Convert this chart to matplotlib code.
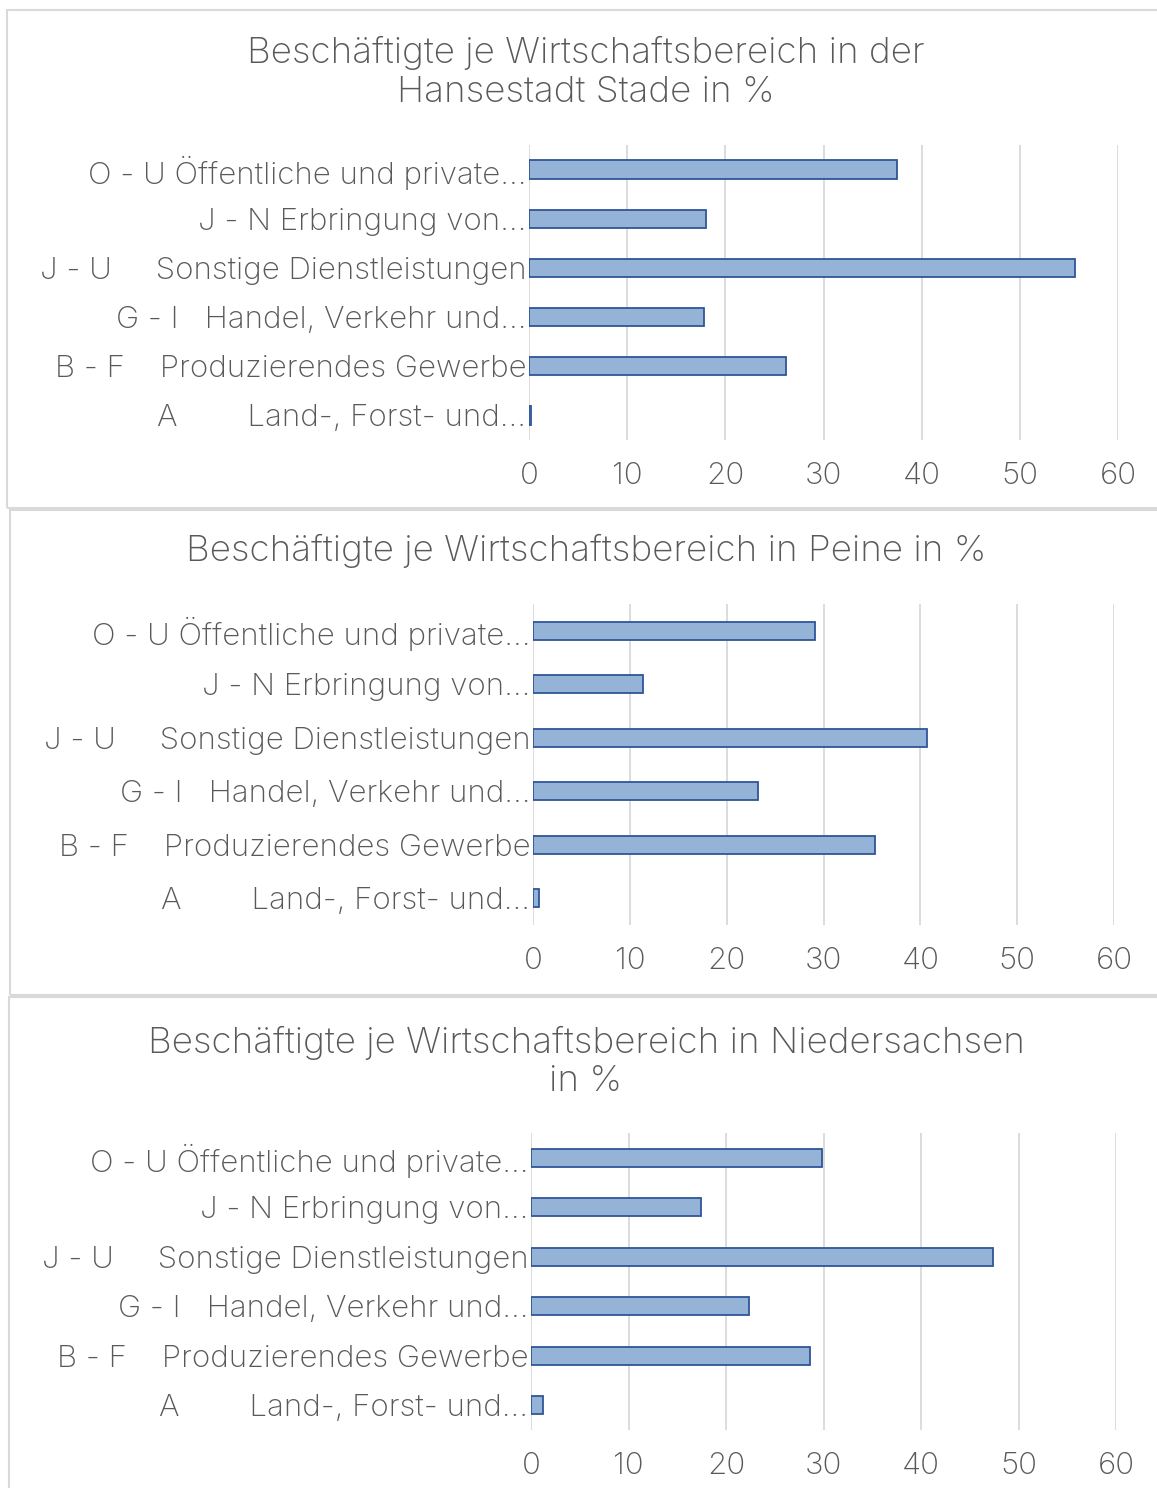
import matplotlib.pyplot as plt
from matplotlib.patches import Rectangle

plt.rcParams['font.family'] = ['Inter', 'DejaVu Sans']
plt.rcParams['font.weight'] = 'light'

# categories, bottom to top
categories = [
    'A        Land-, Forst- und...',
    'B - F    Produzierendes Gewerbe',
    'G - I   Handel, Verkehr und...',
    'J - U     Sonstige Dienstleistungen',
    'J - N Erbringung von...',
    'O - U Öffentliche und private...',
]

stade = [0.2, 26.2, 17.8, 55.6, 18.0, 37.5]
peine = [0.6, 35.3, 23.2, 40.7, 11.4, 29.1]
nds = [1.2, 28.6, 22.4, 47.4, 17.4, 29.8]

titles = [
    'Beschäftigte je Wirtschaftsbereich in der\nHansestadt Stade in %',
    'Beschäftigte je Wirtschaftsbereich in Peine in %',
    'Beschäftigte je Wirtschaftsbereich in Niedersachsen\nin %',
]
xticks = [0, 10, 20, 30, 40, 50, 60]

W, H = 1157, 1488
fig = plt.figure(figsize=(W / 100, H / 100), dpi=100)

txt = '#595959'
grid = '#D9D9D9'
fill = '#95B3D7'
edge = '#2F5597'

# pixel layouts: (border box), (axes box), title centre y, bar height
panels = [
    ((7, 10, 1160, 508), (529, 145, 1118, 440), 72.5, 0.37, stade),
    ((10, 510, 1160, 995), (533, 604, 1114, 925), 551, 0.34, peine),
    ((9, 997, 1160, 1495), (531, 1133, 1116, 1430), 1062, 0.37, nds),
]

for i, (box, ab, ty, bh, vals) in enumerate(panels):
    x0, y0, x1, y1 = box
    fig.patches.append(Rectangle((x0 / W, 1 - y1 / H), (x1 - x0) / W, (y1 - y0) / H,
                                 transform=fig.transFigure, fill=False,
                                 edgecolor=grid, linewidth=1.5))
    ax = fig.add_axes([ab[0] / W, 1 - ab[3] / H, (ab[2] - ab[0]) / W, (ab[3] - ab[1]) / H])
    ax.barh(range(len(categories)), vals, height=bh, color=fill,
            edgecolor=edge, linewidth=1.3, zorder=3)
    ax.set_xlim(0, 60)
    ax.set_ylim(-0.5, len(categories) - 0.5)
    ax.set_xticks(xticks)
    ax.set_yticks(range(len(categories)))
    ax.set_yticklabels(categories)
    ax.grid(axis='x', color=grid, linewidth=1.3, zorder=0)
    for s in ax.spines.values():
        s.set_visible(False)
    ax.tick_params(axis='both', length=0, colors=txt, labelsize=22.5)
    ax.tick_params(axis='y', pad=2)
    ax.tick_params(axis='x', pad=15.5)
    fig.text(586 / W, 1 - ty / H, titles[i], ha='center', va='center',
             fontsize=26.5, color=txt, linespacing=1.2)

fig.savefig('out.png', dpi=100)
